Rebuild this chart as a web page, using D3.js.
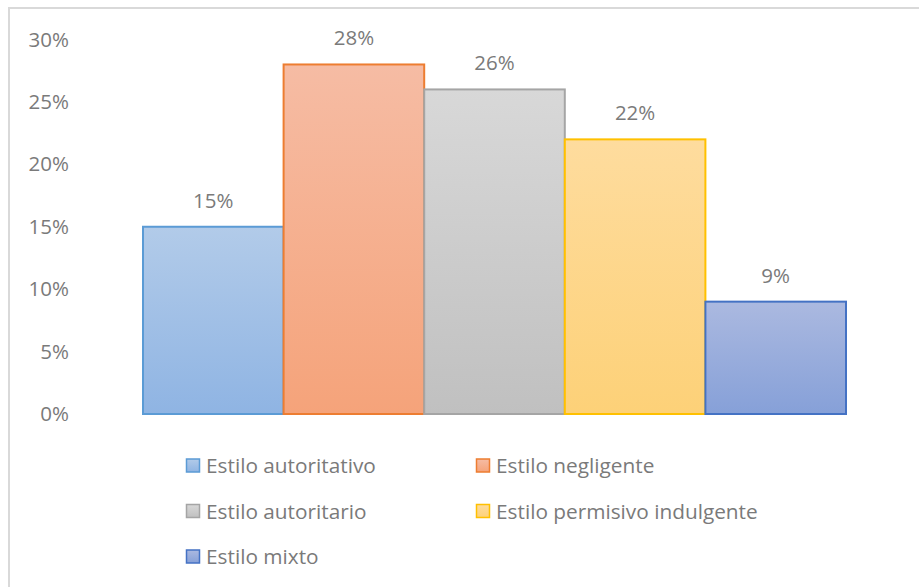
<!DOCTYPE html>
<html>
<head>
<meta charset="utf-8">
<script src="https://cdn.jsdelivr.net/npm/d3@7"></script>
<style>
  body { margin: 0; background: #fff; }
  svg text { font-family: "Open Sans", "Noto Sans", sans-serif; }
</style>
</head>
<body>
<svg id="chart" width="919" height="587"></svg>
<script>
const categories = ["Estilo autoritativo", "Estilo negligente", "Estilo autoritario", "Estilo permisivo indulgente", "Estilo mixto"];
const values = [15, 28, 26, 22, 9];
const yTicks = [0, 5, 10, 15, 20, 25, 30];
const strokes = ["#5b9bd5", "#ed7d31", "#a5a5a5", "#ffc000", "#4472c4"];
const topFill = ["#b2cbe9", "#f6bca4", "#d8d8d8", "#fedc9e", "#abb9e0"];
const botFill = ["#8fb4e3", "#f5a37a", "#c0c0c0", "#fdd178", "#86a0d8"];

const svg = d3.select("#chart");
const textColor = "#7a7a7a";

// chart border
svg.append("path")
  .attr("d", "M9,587 L9,8 L919,8")
  .attr("fill", "none")
  .attr("stroke", "#d9d9d9")
  .attr("stroke-width", 2);

const x = d3.scaleBand().domain(categories).range([143, 846]).padding(0);
const y = d3.scaleLinear().domain([0, 30]).range([414, 39.5]);

const defs = svg.append("defs");
categories.forEach((c, i) => {
  const g = defs.append("linearGradient")
    .attr("id", "grad" + i)
    .attr("x1", 0).attr("y1", 0).attr("x2", 0).attr("y2", 1);
  g.append("stop").attr("offset", "0%").attr("stop-color", topFill[i]);
  g.append("stop").attr("offset", "100%").attr("stop-color", botFill[i]);
});

// y axis labels
const yAxis = svg.append("g")
  .attr("transform", "translate(69,0)")
  .call(d3.axisLeft(y).tickValues(yTicks).tickFormat(d => d + "%").tickSize(0).tickPadding(0));
yAxis.select(".domain").remove();
yAxis.selectAll("text")
  .attr("font-family", "'Open Sans', sans-serif")
  .attr("font-size", 20.5)
  .attr("fill", textColor);

// bars
svg.selectAll(".bar")
  .data(values)
  .enter().append("rect")
  .attr("class", "bar")
  .attr("x", (d, i) => x(categories[i]))
  .attr("y", d => y(d))
  .attr("width", x.bandwidth())
  .attr("height", d => y(0) - y(d))
  .attr("fill", (d, i) => "url(#grad" + i + ")")
  .attr("stroke", (d, i) => strokes[i])
  .attr("stroke-width", 2);

// value labels
svg.selectAll(".val")
  .data(values)
  .enter().append("text")
  .attr("class", "val")
  .attr("x", (d, i) => x(categories[i]) + x.bandwidth() / 2)
  .attr("y", d => y(d) - 19)
  .attr("text-anchor", "middle")
  .attr("font-size", 20.5)
  .attr("fill", textColor)
  .text(d => d + "%");

// legend
const legend = svg.selectAll(".legend")
  .data(categories)
  .enter().append("g")
  .attr("class", "legend")
  .attr("transform", (d, i) => "translate(" + (i % 2 ? 476 : 186) + "," + (465.5 + Math.floor(i / 2) * 45.5) + ")");

legend.append("rect")
  .attr("x", 0.5).attr("y", -6.5)
  .attr("width", 13).attr("height", 13)
  .attr("fill", (d, i) => "url(#grad" + i + ")")
  .attr("stroke", (d, i) => strokes[i])
  .attr("stroke-width", 1.5);

legend.append("text")
  .attr("x", 20)
  .attr("dy", "0.36em")
  .attr("font-size", 20.8)
  .attr("fill", textColor)
  .text(d => d);
</script>
</body>
</html>
